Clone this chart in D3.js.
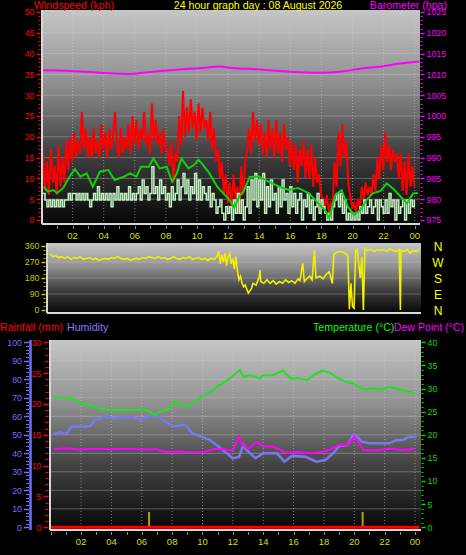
<!DOCTYPE html>
<html><head><meta charset="utf-8">
<script src="https://cdn.jsdelivr.net/npm/d3@7"></script>
<style>html,body{margin:0;padding:0;background:#000;}svg{display:block;font-family:"Liberation Sans",Arial,sans-serif;}</style>
</head><body>
<script>
// ---------- DATA ----------
const hourLabels = ["02","04","06","08","10","12","14","16","18","20","22","00"];
const labelHours = [2,4,6,8,10,12,14,16,18,20,22,24];

// wind gust (kph), 8 samples per hour
const gustKph = [
 16,7,14,6,17,9,13,6, 18,8,15,9,19,12,20,14, 21,15,19,16,26,17,22,15, 20,15,22,16,19,15,23,17,
 21,15,22,17,20,26,18,15, 22,16,20,17,23,16,25,18, 24,17,22,19,26,18,21,16, 28,19,24,18,21,16,22,17,
 17,13,19,9,16,14,25,18, 31,20,27,21,29,22,26,19, 28,21,27,22,24,19,26,17, 22,14,17,10,14,6,11,4,
 9,3,11,5,8,2,13,6, 14,17,22,16,26,19,24,18, 23,16,21,15,24,17,22,15, 24,16,21,14,23,17,20,13,
 19,12,18,9,17,13,19,10, 17,10,18,8,15,9,11,6, 5,3,6,2,4,3,14,8, 21,13,23,15,19,9,6,3,
 4,2,5,3,8,5,9,6, 8,6,11,7,15,10,18,12, 21,14,18,12,17,14,16,10, 16,7,14,6,16,8,13,8];

// wind speed (kph), 8 samples per hour
const windKph = [
 6.4,4.8,3.2,4.8,3.2,4.8,3.2,4.8, 3.2,4.8,3.2,4.8,4.8,6.4,4.8,6.4, 6.4,4.8,6.4,4.8,6.4,4.8,6.4,4.8, 3.2,4.8,6.4,4.8,8,4.8,6.4,4.8,
 6.4,4.8,6.4,3.2,6.4,4.8,8,4.8, 6.4,4.8,6.4,4.8,8,4.8,6.4,4.8, 6.4,8,4.8,9.6,6.4,8,4.8,6.4, 12.8,6.4,8,4.8,9.6,6.4,8,4.8,
 6.4,3.2,8,4.8,6.4,9.6,4.8,8, 11.2,6.4,9.6,4.8,8,6.4,11.2,4.8, 9.6,4.8,8,6.4,4.8,8,3.2,6.4, 4.8,1.6,3.2,4.8,1.6,0,3.2,1.6,
 3.2,0,4.8,1.6,6.4,1.6,4.8,0, 3.2,8,1.6,9.6,4.8,11.2,3.2,9.6, 4.8,11.2,1.6,8,3.2,9.6,4.8,6.4, 1.6,8,3.2,9.6,4.8,6.4,1.6,8,
 3.2,6.4,1.6,4.8,6.4,0,4.8,3.2, 6.4,1.6,4.8,0,3.2,6.4,1.6,4.8, 3.2,1.6,0,1.6,0,3.2,4.8,6.4, 3.2,6.4,1.6,4.8,0,1.6,0,1.6,
 0,1.6,0,3.2,1.6,4.8,1.6,3.2, 4.8,1.6,3.2,4.8,0,4.8,3.2,1.6, 4.8,1.6,6.4,3.2,4.8,0,4.8,1.6, 3.2,4.8,0,4.8,1.6,4.8,3.2,4.8];

// average wind (kph)
const avgHours = [0.15,0.4,0.75,1.0,1.4,1.8,2.15,2.5,2.9,3.3,3.75,4.3,4.7,5.3,5.7,6.1,6.4,6.9,7.2,7.6,8.05,8.4,8.7,9.0,9.45,9.8,10.1,10.4,10.8,11.3,11.7,12.1,12.4,12.7,13.0,13.4,14.0,14.6,15.3,15.9,16.5,17.2,17.8,18.2,18.5,18.9,19.3,19.7,20.1,20.5,20.9,21.3,21.8,22.2,22.6,23.1,23.5,23.9,24.2];
const avgKph = [8,6.8,7.2,6.5,7.7,10.4,12.2,10.4,11.2,8,11.6,12,9.6,10.4,11.2,10.4,12.8,12.8,14.8,12.4,12.8,9.2,11.2,14.8,12.4,13.2,14.5,13.2,11.2,8,6.4,4.8,3,5.5,7,10.4,10.4,9.2,8,7.2,7.7,6.4,4,2.5,0.5,6,7.2,3.2,1.2,2.4,4.8,6.4,7,8.8,7.6,5.6,4,6.4,6.5];

// barometer (hpa)
const baroHours = [0.1,1.6,3.76,5.7,7.0,8.9,10.2,11.5,12.1,14.05,16.0,17.9,19.2,20.7,21.8,23.05,24.0,24.3];
const baroHpa = [1011.0,1010.9,1010.4,1010.1,1010.6,1011.2,1011.5,1011.9,1011.6,1011.2,1010.65,1010.4,1010.65,1011.5,1011.85,1012.6,1013.0,1013.1];

// wind direction (degrees)
const dirHours = [0.55,0.7,0.9,1.1,1.3,1.5,1.7,1.9,2.1,2.3,2.5,2.7,2.9,3.1,3.3,3.5,3.7,3.9,4.1,4.3,4.5,4.7,4.9,5.1,5.3,5.5,5.7,5.9,6.1,6.3,6.5,6.7,6.9,7.1,7.3,7.5,7.7,7.9,8.1,8.3,8.5,8.7,8.9,9.1,9.3,9.5,9.7,9.9,10.1,10.3,10.5,10.7,10.9,11.1,11.3,11.4,11.5,11.6,11.7,11.8,11.9,12.0,12.1,12.2,12.3,12.4,12.5,12.6,12.7,12.8,12.9,13.0,13.1,13.3,13.5,13.6,13.8,14.0,14.05,14.1,14.3,14.5,14.7,14.9,15.1,15.3,15.5,15.7,15.9,16.1,16.3,16.5,16.62,16.8,16.9,17.1,17.25,17.4,17.55,17.65,17.9,18.1,18.3,18.5,18.7,18.8,19.0,19.2,19.4,19.6,19.7,19.8,19.9,20.0,20.1,20.2,20.3,20.4,20.5,20.6,20.7,20.8,21.0,21.2,21.4,21.6,21.8,22.0,22.2,22.4,22.6,22.8,23.0,23.08,23.12,23.3,23.5,23.7,23.9,24.1,24.3];
const dirDeg = [320,300,305,295,300,290,300,285,295,290,300,285,290,295,285,290,280,285,290,285,295,290,300,290,285,290,280,285,290,285,295,290,300,295,290,300,290,295,285,290,300,290,285,295,290,300,285,290,295,285,290,280,290,285,300,330,260,310,270,320,250,300,320,260,290,230,300,220,170,190,150,130,140,95,120,150,140,185,225,160,150,170,150,165,145,160,150,170,155,165,150,175,165,263,160,180,190,170,337,180,190,175,200,215,150,315,325,330,325,315,305,5,150,20,10,330,340,260,180,300,0,345,335,340,330,340,335,340,330,345,335,330,340,0,335,330,340,320,335,330,340];
const dirLetters = ["N","W","S","E","N"];
const dirLetterDeg = [360,270,180,90,0];

// temperature / dew point (°C), humidity (%)
const tempHours = [0.17,1.05,1.27,1.93,2.59,3.25,3.9,4.56,5.2,5.88,6.3,6.87,7.2,7.86,8.19,8.5,8.96,9.4,9.8,10.5,11.15,11.8,12.47,12.7,13.1,13.8,14.0,14.6,15.3,15.8,16.4,16.9,17.3,17.9,18.4,18.8,19.4,19.9,20.6,21.2,21.9,22.3,23.0,23.6,24.0];
const tempC = [28.1,27.9,28.1,26.8,26.4,25.7,25.3,25.4,25.3,25.5,25.3,24.3,25.0,25.7,27.2,26.7,26.1,27.0,27.9,29.3,30.8,32.2,34.0,32.5,32.9,32.2,32.9,32.9,33.9,32.2,32.2,31.8,32.9,33.9,33.4,32.5,31.5,31.1,29.8,30.0,29.8,30.4,29.8,29.3,29.0];
const humHours = [0.17,0.6,1.0,1.38,1.93,2.6,2.9,3.7,4.1,4.8,5.4,5.9,6.3,6.98,7.4,8.1,8.5,8.9,9.3,9.8,10.5,11.0,11.6,12.0,12.4,12.7,12.9,13.5,14.0,14.9,15.4,15.9,16.8,17.5,18.1,18.6,19.0,19.6,19.9,20.2,20.5,21.0,21.9,22.3,22.8,23.2,23.6,24.1];
const humPct = [50.4,51.4,50.4,54.4,54.4,54.7,58,60.2,59,59.5,59.5,58,59.5,60.7,58,54.4,55.3,55.3,50.9,49.5,47.2,44,40,37.3,38,44.5,41.8,37.3,40,40,35.5,38.6,38.1,35.5,36.4,40,43.9,44.4,49.9,49,46.3,45.4,45.4,45.4,47.2,47.2,49,49];
const dewHours = [0.2,1.0,2.0,3.0,4.0,5.0,6.0,7.0,7.5,8.5,9.0,10.0,10.8,11.5,12.0,12.4,12.6,13.0,13.6,14.0,14.6,15.5,16.2,17.0,17.9,18.3,19.0,19.6,20.0,20.4,20.6,21.4,22.3,23.2,24.0];
const dewC = [16.9,17.1,16.8,17.0,16.9,17.0,16.8,16.9,16.3,16.4,16.3,16.2,17.0,16.8,16.6,19.6,18.0,17.0,18.5,17.4,17.5,16.1,16.3,16.0,16.3,16.7,17.8,17.8,19.6,17.8,16.7,16.6,17.0,16.7,17.0];
const rainHours = [6.48,20.55];
const rainMm = [2.5,2.5];
const rainLineHours = [0,24.3];
const rainTotalMm = [0,0];

// ---------- DRAW ----------
const W = 466, H = 555;
const svg = d3.select("body").append("svg").attr("width", W).attr("height", H).style("background", "#000");
const defs = svg.append("defs");
const grad = defs.append("linearGradient").attr("id", "bg").attr("x1", 0).attr("y1", 0).attr("x2", 0).attr("y2", 1);
[[0, "#c6c6c6"], [0.35, "#8e8e8e"], [0.65, "#444444"], [1, "#060606"]].forEach(([o, c]) => grad.append("stop").attr("offset", o).attr("stop-color", c));

const yellowLbl = "#dede00";
const titleSize = 10.6;

function panel(x0, y0, x1, y1, id) {
  defs.append("clipPath").attr("id", id).append("rect").attr("x", x0).attr("y", y0).attr("width", x1 - x0).attr("height", y1 - y0);
  svg.append("rect").attr("x", x0).attr("y", y0).attr("width", x1 - x0).attr("height", y1 - y0).attr("fill", "url(#bg)");
  return svg.append("g").attr("clip-path", `url(#${id})`);
}
function frame(x0, y0, x1, y1) {
  svg.append("line").attr("x1", x0).attr("x2", x0).attr("y1", y0).attr("y2", y1).attr("stroke", "#d8d8d8").attr("stroke-width", 2);
  svg.append("line").attr("x1", x0).attr("x2", x1).attr("y1", y1).attr("y2", y1).attr("stroke", "#d8d8d8").attr("stroke-width", 2);
}
function vAxis(scale, x, step, majorEvery, color, side, fmt, tickLen) {
  const g = svg.append("g");
  const [lo, hi] = scale.domain();
  for (let v = lo; v <= hi + 1e-9; v += step) {
    const major = Math.abs(Math.round(v / majorEvery) * majorEvery - v) < 1e-6;
    const len = major ? tickLen : tickLen - 2;
    const y = Math.round(scale(v)) + 0.5;
    g.append("line").attr("x1", side === "left" ? x - len : x).attr("x2", side === "left" ? x : x + len)
      .attr("y1", y).attr("y2", y).attr("stroke", color).attr("stroke-width", major ? 1.5 : 1);
    if (major && fmt) {
      g.append("text").attr("x", side === "left" ? x - tickLen - 2 : x + tickLen + 2).attr("y", scale(v) + 3.4)
        .attr("text-anchor", side === "left" ? "end" : "start").attr("fill", color).attr("font-size", 8.8).text(fmt(v));
    }
  }
}
function grid(g, xScale, yVals, yScale, x0, x1, y0, y1) {
  labelHours.forEach(h => g.append("line").attr("x1", xScale(h)).attr("x2", xScale(h)).attr("y1", y0).attr("y2", y1)
    .attr("stroke", "#d0d0d0").attr("stroke-opacity", 0.55).attr("stroke-dasharray", "1,2"));
  yVals.forEach(v => g.append("line").attr("x1", x0).attr("x2", x1).attr("y1", yScale(v)).attr("y2", yScale(v))
    .attr("stroke", "#d0d0d0").attr("stroke-opacity", 0.35));
}
function hourTicks(xScale, y, x0, x1) {
  for (let h = 0; h <= 24; h++) {
    const x = xScale(h);
    if (x < x0 || x > x1) continue;
    svg.append("line").attr("x1", Math.round(x) + 0.5).attr("x2", Math.round(x) + 0.5).attr("y1", y).attr("y2", y + 3).attr("stroke", "#909090");
  }
}
function hourLabelsAt(xScale, y) {
  svg.append("g").selectAll("text").data(labelHours).join("text")
    .attr("x", d => xScale(d)).attr("y", y).attr("text-anchor", "middle").attr("fill", yellowLbl).attr("font-size", 9.5)
    .text((d, i) => hourLabels[i]);
}

// ---- top panel ----
const T = { x0: 42, x1: 420, y0: 10, y1: 224 };
const xTop = d3.scaleLinear().domain([0, 24]).range([41.5, 414.7]);
const yWind = d3.scaleLinear().domain([0, 50]).range([220, 12]);
const yBaro = d3.scaleLinear().domain([975, 1025]).range([220, 12]);
const gTop = panel(T.x0, T.y0, T.x1, T.y1, "cTop");
grid(gTop, xTop, d3.range(5, 50, 5), yWind, T.x0, T.x1, T.y0, T.y1);
const stepH = 1 / 8;
gTop.append("path").datum(gustKph).attr("fill", "none").attr("stroke", "#ff0000").attr("stroke-width", 2)
  .attr("d", d3.line().x((d, i) => xTop(0.1 + i * stepH)).y(d => yWind(d)));
gTop.append("path").datum(windKph).attr("fill", "none").attr("stroke", "#c4f2c4").attr("stroke-width", 1.5)
  .attr("d", d3.line().curve(d3.curveStepAfter).x((d, i) => xTop(0.1 + i * stepH)).y(d => yWind(d)));
gTop.append("path").datum(avgKph).attr("fill", "none").attr("stroke", "#10d010").attr("stroke-width", 2)
  .attr("d", d3.line().x((d, i) => xTop(avgHours[i])).y(d => yWind(d)));
gTop.append("path").datum(baroHpa).attr("fill", "none").attr("stroke", "#ff00ff").attr("stroke-width", 2)
  .attr("d", d3.line().curve(d3.curveMonotoneX).x((d, i) => xTop(baroHours[i])).y(d => yBaro(d)));
frame(T.x0, T.y0, T.x1, T.y1);
vAxis(yWind, 40.5, 1, 5, "#ff0000", "left", d => d, 4);
vAxis(yBaro, 420.5, 1, 5, "#ff00ff", "right", d => d, 4);
hourTicks(xTop, 226, T.x0, T.x1);
hourLabelsAt(xTop, 238.5);

// titles
svg.append("text").attr("x", 34).attr("y", 8.5).attr("fill", "#ff0000").attr("font-size", titleSize).text("Windspeed (kph)");
svg.append("text").attr("x", 258).attr("y", 8.5).attr("text-anchor", "middle").attr("fill", "#ffff00").attr("font-size", titleSize).text("24 hour graph day : 08 August 2026");
svg.append("text").attr("x", 447).attr("y", 8.5).attr("text-anchor", "end").attr("fill", "#ff00ff").attr("font-size", titleSize).text("Barometer (hpa)");

// ---- middle panel ----
const M = { x0: 47, x1: 421, y0: 243, y1: 313 };
const xMid = d3.scaleLinear().domain([0, 24]).range([41.5, 414.7]);
const yDir = d3.scaleLinear().domain([0, 360]).range([310, 246]);
const gMid = panel(M.x0, M.y0, M.x1, M.y1, "cMid");
dirLetterDeg.slice(1, 4).forEach(v => gMid.append("line").attr("x1", M.x0).attr("x2", M.x1).attr("y1", yDir(v)).attr("y2", yDir(v))
  .attr("stroke", "#d0d0d0").attr("stroke-opacity", 0.3));
gMid.append("path").datum(dirDeg).attr("fill", "none").attr("stroke", "#f0f000").attr("stroke-width", 1.6)
  .attr("d", d3.line().x((d, i) => xMid(dirHours[i])).y(d => yDir(d)));
frame(M.x0, M.y0, M.x1, M.y1);
vAxis(yDir, 45.5, 22.5, 90, "#c8c800", "left", d => d, 4);
svg.append("g").selectAll("text").data(dirLetters).join("text")
  .attr("x", 438).attr("y", (d, i) => yDir(dirLetterDeg[i]) + 4.5).attr("text-anchor", "middle")
  .attr("fill", "#ffff00").attr("font-size", 12).text(d => d);

// ---- bottom panel ----
svg.append("text").attr("x", 0).attr("y", 331).attr("fill", "#ff0000").attr("font-size", titleSize).text("Rainfall (mm)");
svg.append("text").attr("x", 67).attr("y", 331).attr("fill", "#8080ff").attr("font-size", titleSize).text("Humidity");
svg.append("text").attr("x", 313).attr("y", 331).attr("fill", "#00ff00").attr("font-size", titleSize).text("Temperature (°C)");
svg.append("text").attr("x", 464).attr("y", 331).attr("text-anchor", "end").attr("fill", "#ff00ff").attr("font-size", titleSize).text("Dew Point (°C)");

const B = { x0: 50, x1: 421, y0: 340, y1: 530 };
const xBot = d3.scaleLinear().domain([0, 24]).range([50.7, 415]);
const yHum = d3.scaleLinear().domain([0, 100]).range([527.3, 342.3]);
const yRain = d3.scaleLinear().domain([0, 30]).range([527.3, 342.3]);
const yTemp = d3.scaleLinear().domain([0, 40]).range([527.3, 342.3]);
const gBot = panel(B.x0, B.y0, B.x1, B.y1, "cBot");
grid(gBot, xBot, d3.range(10, 100, 10), yHum, B.x0, B.x1, B.y0, B.y1);
gBot.append("g").selectAll("line").data(rainMm).join("line")
  .attr("x1", (d, i) => xBot(rainHours[i])).attr("x2", (d, i) => xBot(rainHours[i]))
  .attr("y1", yRain(0)).attr("y2", d => yRain(d)).attr("stroke", "#a8a800").attr("stroke-width", 2);
gBot.append("path").datum(humPct).attr("fill", "none").attr("stroke", "#7878f0").attr("stroke-width", 2.5)
  .attr("d", d3.line().x((d, i) => xBot(humHours[i])).y(d => yHum(d)));
gBot.append("path").datum(dewC).attr("fill", "none").attr("stroke", "#ff00ff").attr("stroke-width", 2)
  .attr("d", d3.line().x((d, i) => xBot(dewHours[i])).y(d => yTemp(d)));
gBot.append("path").datum(tempC).attr("fill", "none").attr("stroke", "#22e022").attr("stroke-width", 2)
  .attr("d", d3.line().x((d, i) => xBot(tempHours[i])).y(d => yTemp(d)));
gBot.append("path").datum(rainTotalMm).attr("fill", "none").attr("stroke", "#ff0000").attr("stroke-width", 3)
  .attr("d", d3.line().x((d, i) => xBot(rainLineHours[i])).y(d => yRain(d)));
frame(B.x0, B.y0, B.x1, B.y1);
svg.append("line").attr("x1", 30.5).attr("x2", 30.5).attr("y1", 340).attr("y2", 530).attr("stroke", "#7070ff").attr("stroke-width", 2.5);
vAxis(yHum, 29, 2, 10, "#7070ff", "left", d => d, 5);
vAxis(yRain, 48.5, 1, 5, "#ff0000", "left", d => d, 5);
vAxis(yTemp, 421.5, 1, 5, "#00dd00", "right", d => d, 4);
hourTicks(xBot, 532, B.x0, B.x1);
hourLabelsAt(xBot, 545);
</script>
</body></html>
